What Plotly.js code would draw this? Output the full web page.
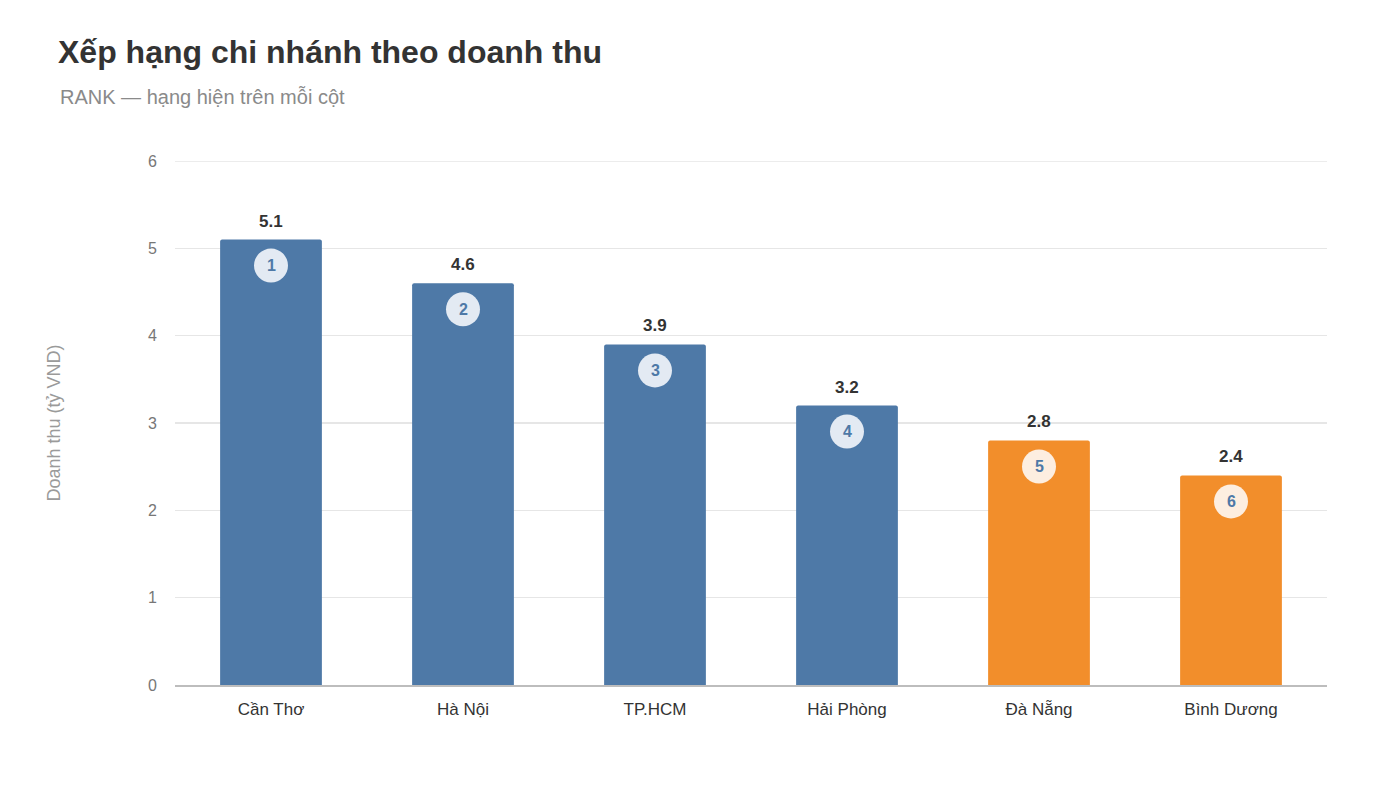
<!DOCTYPE html>
<html>
<head>
<meta charset="utf-8">
<script src="https://cdn.plot.ly/plotly-3.0.1.min.js"></script>
<style>html,body{margin:0;padding:0;background:#fff;}#chart{width:1400px;height:787px;}</style>
</head>
<body>
<div id="chart"></div>
<script>
const branches = ["Cần Thơ", "Hà Nội", "TP.HCM", "Hải Phòng", "Đà Nẵng", "Bình Dương"];
const revenue = [5.1, 4.6, 3.9, 3.2, 2.8, 2.4];
const ranks = [1, 2, 3, 4, 5, 6];
const groups = ["top", "top", "top", "top", "low", "low"];
const yTicks = [0, 1, 2, 3, 4, 5, 6];

const barColor = {top: "#4e79a7", low: "#f28e2b"};
const circleColor = {top: "#e3eaf3", low: "#fdeee0"};
const FONT = "Liberation Sans, Arial, Helvetica, sans-serif";
const GRID = "#e6e6e6";

const trace = {
  type: "bar",
  x: branches,
  y: revenue,
  marker: {color: groups.map(g => barColor[g]), cornerradius: 2},
  hoverinfo: "x+y",
  cliponaxis: false
};

const shapes = [{
  type: "line", xref: "paper", yref: "y", x0: 0, x1: 1,
  y0: yTicks[yTicks.length - 1], y1: yTicks[yTicks.length - 1],
  line: {color: GRID, width: 1.5}, layer: "below"
}];
const annotations = [];
branches.forEach((b, i) => {
  shapes.push({
    type: "circle", xref: "x", yref: "y",
    xsizemode: "pixel", ysizemode: "pixel",
    xanchor: b, yanchor: revenue[i],
    x0: -17, x1: 17, y0: -43, y1: -9,
    fillcolor: circleColor[groups[i]], line: {width: 0}, layer: "above"
  });
  annotations.push({
    x: b, y: revenue[i], xref: "x", yref: "y",
    text: "<b>" + ranks[i] + "</b>", showarrow: false,
    yshift: -26, font: {family: FONT, size: 16, color: "#4e79a7"}
  });
  annotations.push({
    x: b, y: revenue[i], xref: "x", yref: "y",
    text: "<b>" + revenue[i].toFixed(1) + "</b>", showarrow: false,
    yanchor: "bottom", yshift: 7, font: {family: FONT, size: 17, color: "#333333"}
  });
});
annotations.push({
  xref: "paper", yref: "paper", x: -0.1016, y: 1.122,
  xanchor: "left", yanchor: "middle", showarrow: false,
  text: "RANK — hạng hiện trên mỗi cột",
  font: {family: FONT, size: 20, color: "#8a8a8a"}
});

const layout = {
  width: 1400, height: 787,
  margin: {l: 175, r: 73, t: 161, b: 102},
  paper_bgcolor: "#ffffff", plot_bgcolor: "#ffffff",
  font: {family: FONT, color: "#555"},
  title: {
    text: "<b>Xếp hạng chi nhánh theo doanh thu</b>",
    xref: "container", yref: "container", x: 58/1400, y: 1 - 52/787,
    xanchor: "left", yanchor: "middle",
    font: {family: FONT, size: 32, color: "#333333"}
  },
  bargap: 0.47,
  showlegend: false,
  xaxis: {
    type: "category",
    showline: true, linecolor: "#bdbdbd", linewidth: 2,
    showgrid: false, ticks: "",
    tickfont: {family: FONT, size: 17, color: "#333333"},
    ticklabelstandoff: 8
  },
  yaxis: {
    range: [0, 6], tickvals: yTicks,
    showgrid: true, gridcolor: GRID, gridwidth: 1.5,
    zeroline: false, showline: false, ticks: "",
    tickfont: {family: FONT, size: 16, color: "#777777"},
    ticklabelstandoff: 17,
    title: {text: "Doanh thu (tỷ VND)", standoff: 82, font: {family: FONT, size: 18, color: "#9a9a9a"}}
  },
  shapes: shapes,
  annotations: annotations
};

Plotly.newPlot("chart", [trace], layout, {displayModeBar: false, staticPlot: true});
</script>
</body>
</html>
